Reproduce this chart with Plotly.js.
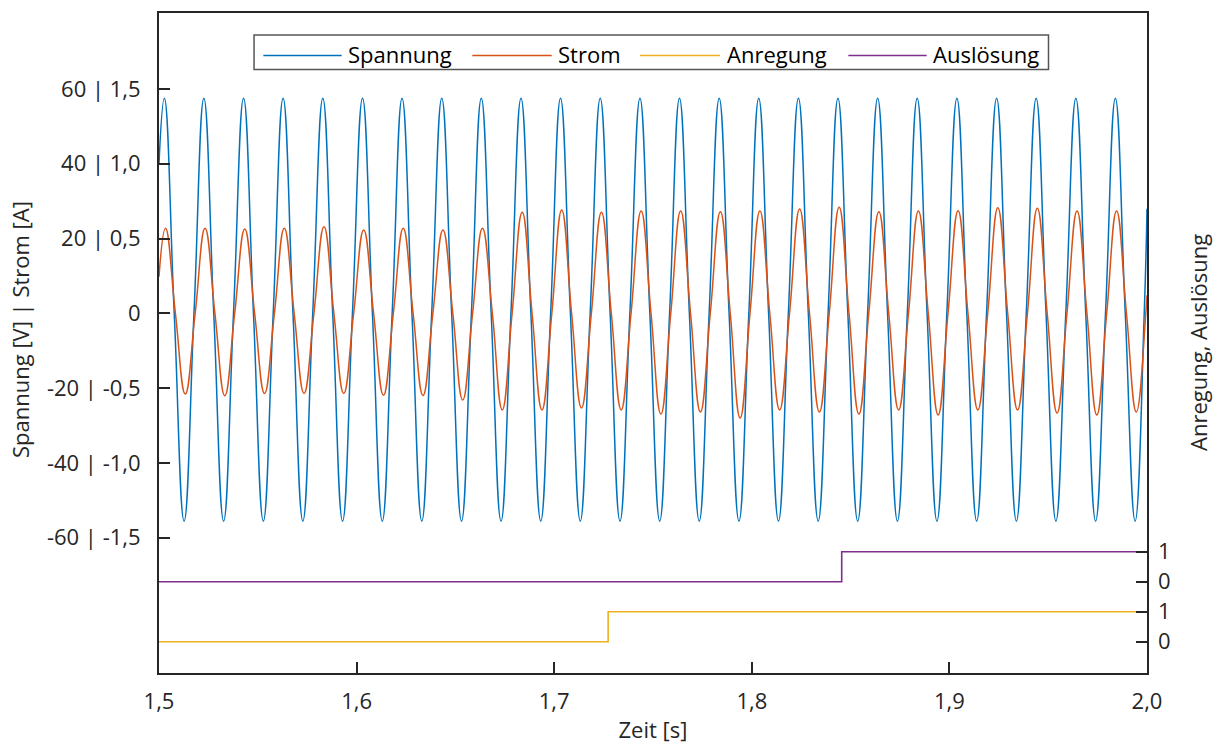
<!DOCTYPE html>
<html><head><meta charset="utf-8">
<script src="https://cdn.plot.ly/plotly-3.0.1.min.js"></script>
<style>html,body{margin:0;padding:0;background:#fff}</style>
</head><body><div id="chart" style="width:1218px;height:746px"></div>
<script>
// ---- data ----
const timeSpannung = [1.5,
1.5027,1.5077,1.5127,1.5177, 1.5227,1.5277,1.5327,1.5377, 1.5428,1.5478,1.5528,1.5578,
1.5628,1.5678,1.5728,1.5778, 1.5829,1.5879,1.5929,1.5979, 1.6030,1.6080,1.6130,1.6180,
1.6230,1.6280,1.6330,1.6380, 1.6431,1.6481,1.6531,1.6581, 1.6631,1.6681,1.6731,1.6781,
1.6832,1.6882,1.6932,1.6982, 1.7032,1.7082,1.7132,1.7182, 1.7233,1.7283,1.7333,1.7383,
1.7434,1.7484,1.7534,1.7584, 1.7634,1.7684,1.7734,1.7784, 1.7835,1.7885,1.7935,1.7985,
1.8035,1.8085,1.8135,1.8185, 1.8236,1.8286,1.8336,1.8386, 1.8436,1.8486,1.8536,1.8586,
1.8637,1.8687,1.8737,1.8787, 1.8837,1.8887,1.8937,1.8987, 1.9038,1.9088,1.9138,1.9188,
1.9239,1.9289,1.9339,1.9389, 1.9439,1.9489,1.9539,1.9589, 1.9640,1.9690,1.9740,1.9790,
1.9840,1.9890,1.9940,1.9986, 2.0];
const valuesSpannung = [40,
57.5,0,-55.6,0, 57.5,0,-55.6,0, 57.5,0,-55.6,0, 57.5,0,-55.6,0, 57.5,0,-55.6,0,
57.5,0,-55.6,0, 57.5,0,-55.6,0, 57.5,0,-55.6,0, 57.5,0,-55.6,0, 57.5,0,-55.6,0,
57.5,0,-55.6,0, 57.5,0,-55.6,0, 57.5,0,-55.6,0, 57.5,0,-55.6,0, 57.5,0,-55.6,0,
57.5,0,-55.6,0, 57.5,0,-55.6,0, 57.5,0,-55.6,0, 57.5,0,-55.6,0, 57.5,0,-55.6,0,
57.5,0,-55.6,0, 57.5,0,-55.6,0, 57.5,0,-55.6,0, 57.5,0,-55.6,0, 57.5,0,-55.6,0,
28];

const timeStrom = [1.5,
1.5033,1.5083,1.5133,1.5183, 1.5233,1.5283,1.5333,1.5383, 1.5434,1.5484,1.5534,1.5584,
1.5634,1.5684,1.5734,1.5784, 1.5835,1.5885,1.5935,1.5985, 1.6036,1.6086,1.6136,1.6186,
1.6236,1.6286,1.6336,1.6386, 1.6437,1.6487,1.6537,1.6587, 1.6637,1.6687,1.6737,1.6787,
1.6838,1.6888,1.6938,1.6988, 1.7038,1.7088,1.7138,1.7188, 1.7239,1.7289,1.7339,1.7389,
1.7440,1.7490,1.7540,1.7590, 1.7640,1.7690,1.7740,1.7790, 1.7841,1.7891,1.7941,1.7991,
1.8041,1.8091,1.8141,1.8191, 1.8242,1.8292,1.8342,1.8392, 1.8442,1.8492,1.8542,1.8592,
1.8643,1.8693,1.8743,1.8793, 1.8843,1.8893,1.8943,1.8993, 1.9044,1.9094,1.9144,1.9194,
1.9245,1.9295,1.9345,1.9395, 1.9445,1.9495,1.9545,1.9595, 1.9646,1.9696,1.9746,1.9796,
1.9846,1.9896,1.9946,1.9994, 2.0];
const valuesStrom = [0.245,
0.569,0,-0.540,0, 0.569,0,-0.551,0, 0.564,0,-0.536,0, 0.569,0,-0.536,0, 0.579,0,-0.536,0,
0.557,0,-0.548,0, 0.569,0,-0.550,0, 0.557,0,-0.580,0, 0.569,0,-0.646,0, 0.676,0,-0.646,0,
0.691,0,-0.633,0, 0.676,0,-0.646,0, 0.684,0,-0.674,0, 0.684,0,-0.660,0, 0.680,0,-0.700,0,
0.684,0,-0.646,0, 0.698,0,-0.660,0, 0.709,0,-0.674,0, 0.680,0,-0.646,0, 0.684,0,-0.680,0,
0.686,0,-0.646,0, 0.706,0,-0.646,0, 0.702,0,-0.667,0, 0.684,0,-0.680,0, 0.684,0,-0.660,0,
0.12];

const timeAnregung = [1.5, 1.7273, 2.0];
const valuesAnregung = [0, 1, 1];
const timeAusloesung = [1.5, 1.8455, 2.0];
const valuesAusloesung = [0, 1, 1];

const seriesNames = ['Spannung', 'Strom', 'Anregung', 'Auslösung'];
const xTickVals = [1.5, 1.6, 1.7, 1.8, 1.9, 2.0];
const xTickText = ['1,5', '1,6', '1,7', '1,8', '1,9', '2,0'];
const yTickVals = [-60, -40, -20, 0, 20, 40, 60];
const yTickText = ['-60 | -1,5', '-40 | -1,0', '-20 | -0,5', '0', '20 | 0,5', '40 | 1,0', '60 | 1,5'];
const binTickVals = [0, 1];
const binTickText = ['0', '1'];

// ---- styling ----
const colors = ['#0072BD', '#D95319', '#EDB120', '#7E2F8E'];
const ink = '#262626';
const fam = '"Open Sans", "Noto Sans", "DejaVu Sans", sans-serif';
const FS = 22;
const yRange = [-96.23, 80.34];
const stromPerVolt = 1 / 40;

const traces = [
  {x: timeSpannung, y: valuesSpannung, name: seriesNames[0], type: 'scatter', mode: 'lines',
   line: {color: colors[0], width: 1.5, shape: 'spline', smoothing: 1.3}, yaxis: 'y'},
  {x: timeStrom, y: valuesStrom, name: seriesNames[1], type: 'scatter', mode: 'lines',
   line: {color: colors[1], width: 1.5, shape: 'spline', smoothing: 1.3}, yaxis: 'y4'},
  {x: timeAnregung, y: valuesAnregung, name: seriesNames[2], type: 'scatter', mode: 'lines',
   line: {color: colors[2], width: 1.6, shape: 'hv'}, yaxis: 'y3'},
  {x: timeAusloesung, y: valuesAusloesung, name: seriesNames[3], type: 'scatter', mode: 'lines',
   line: {color: colors[3], width: 1.6, shape: 'hv'}, yaxis: 'y2'}
];

// manual legend (long line samples as in reference)
const legendItems = [
  {x0: 0.1056, x1: 0.1849, tx: 0.1890},
  {x0: 0.3171, x1: 0.3975, tx: 0.4022},
  {x0: 0.4868, x1: 0.5678, tx: 0.5732},
  {x0: 0.6977, x1: 0.7770, tx: 0.7817}
];
const shapes = [{type: 'rect', xref: 'paper', yref: 'paper', x0: 0.0962, x1: 0.9003, y0: 0.9144, y1: 0.9667,
  line: {color: '#555555', width: 1.5}, fillcolor: '#ffffff', layer: 'above'}];
const annotations = [];
legendItems.forEach((it, i) => {
  shapes.push({type: 'line', xref: 'paper', yref: 'paper', x0: it.x0, x1: it.x1, y0: 0.9356, y1: 0.9356,
    line: {color: colors[i], width: 1.5}, layer: 'above'});
  annotations.push({xref: 'paper', yref: 'paper', x: it.tx, y: 0.9385, xanchor: 'left', yanchor: 'middle',
    text: seriesNames[i], showarrow: false, font: {family: fam, size: FS, color: '#000'}});
});
annotations.push({xref: 'paper', yref: 'paper', x: -0.1407, y: 0.5212, xanchor: 'center', yanchor: 'middle',
  textangle: -90, text: 'Spannung [V] | Strom [A]', showarrow: false, font: {family: fam, size: FS, color: ink}});
annotations.push({xref: 'paper', yref: 'paper', x: 1.0516, y: 0.5015, xanchor: 'center', yanchor: 'middle',
  textangle: -90, text: 'Anregung, Auslösung', showarrow: false, font: {family: fam, size: FS, color: ink}});

const baseAxis = {showgrid: false, zeroline: false, ticks: 'inside', ticklen: 11, tickwidth: 2, tickcolor: ink,
  tickfont: {family: fam, size: FS, color: ink}};

const layout = {
  width: 1218, height: 746,
  margin: {l: 159, r: 71, t: 13, b: 73, pad: 0},
  paper_bgcolor: '#ffffff', plot_bgcolor: '#ffffff',
  font: {family: fam, size: FS, color: ink},
  showlegend: false,
  xaxis: Object.assign({}, baseAxis, {range: [1.5, 2.0], tickmode: 'array', tickvals: xTickVals, ticktext: xTickText,
    showline: true, linewidth: 2, linecolor: ink, mirror: true, ticklabelstandoff: 8,
    title: {text: 'Zeit [s]', standoff: 8, font: {family: fam, size: FS, color: ink}}}),
  yaxis: Object.assign({}, baseAxis, {range: yRange, tickmode: 'array', tickvals: yTickVals, ticktext: yTickText,
    showline: true, linewidth: 2, linecolor: ink, mirror: true, ticklabelstandoff: 12}),
  yaxis2: Object.assign({}, baseAxis, {overlaying: 'y', side: 'right', anchor: 'x', range: [-3.043, 18.96],
    tickmode: 'array', tickvals: binTickVals, ticktext: binTickText, showline: false, ticklabelstandoff: 10}),
  yaxis3: Object.assign({}, baseAxis, {overlaying: 'y', side: 'right', anchor: 'x', range: [-1.043, 20.96],
    tickmode: 'array', tickvals: binTickVals, ticktext: binTickText, showline: false, ticklabelstandoff: 10}),
  yaxis4: {overlaying: 'y', range: [yRange[0] * stromPerVolt, yRange[1] * stromPerVolt], visible: false,
    showgrid: false, zeroline: false},
  shapes: shapes,
  annotations: annotations
};

Plotly.newPlot('chart', traces, layout, {displayModeBar: false, staticPlot: true});
</script></body></html>
